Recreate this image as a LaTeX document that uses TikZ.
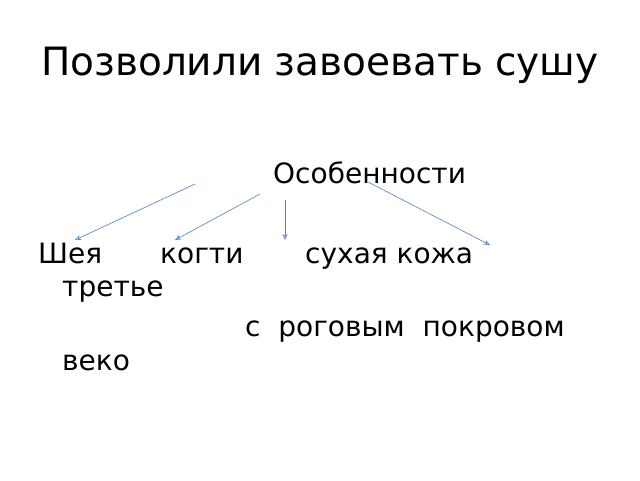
\documentclass[tikz,border=0pt]{standalone}
\usepackage{fontspec}
\usetikzlibrary{arrows.meta}
\setmainfont{DejaVu Sans}
\begin{document}
\begin{tikzpicture}[x=1pt,y=-1pt,
  txt/.style={anchor=base west,inner sep=0pt,font=\fontsize{28}{32}\selectfont},
  arr/.style={draw={rgb,255:red,79;green,129;blue,189},-{Stealth[open,length=6pt,width=5pt]},line width=0.6pt}]
\useasboundingbox (0,0) rectangle (640,480);
\node[anchor=base,inner sep=0pt,font=\fontsize{39}{46}\selectfont] (title) at (320,75) {Позволили завоевать сушу};
\node[txt] (osob) at (273,183) {Особенности};
\node[txt] (l1a) at (38,263) {Шея};
\node[txt] (l1b) at (160,263) {когти};
\node[txt] (l1c) at (305,263) {сухая кожа};
\node[txt] (l2) at (62,296) {третье};
\node[txt] (l3) at (245,336) {с\ \ роговым\ \ покровом};
\node[txt] (l4) at (62,370) {веко};
\coordinate (s1) at (195,184); \coordinate (e1) at (75,240);
\coordinate (s2) at (260,194); \coordinate (e2) at (175,240);
\coordinate (s3) at (285,200); \coordinate (e3) at (285,240);
\coordinate (s4) at (368,182); \coordinate (e4) at (490,245);
\draw[arr] (s1) -- (e1);
\draw[arr] (s2) -- (e2);
\draw[arr] (s3) -- (e3);
\draw[arr] (s4) -- (e4);
\end{tikzpicture}
\end{document}
